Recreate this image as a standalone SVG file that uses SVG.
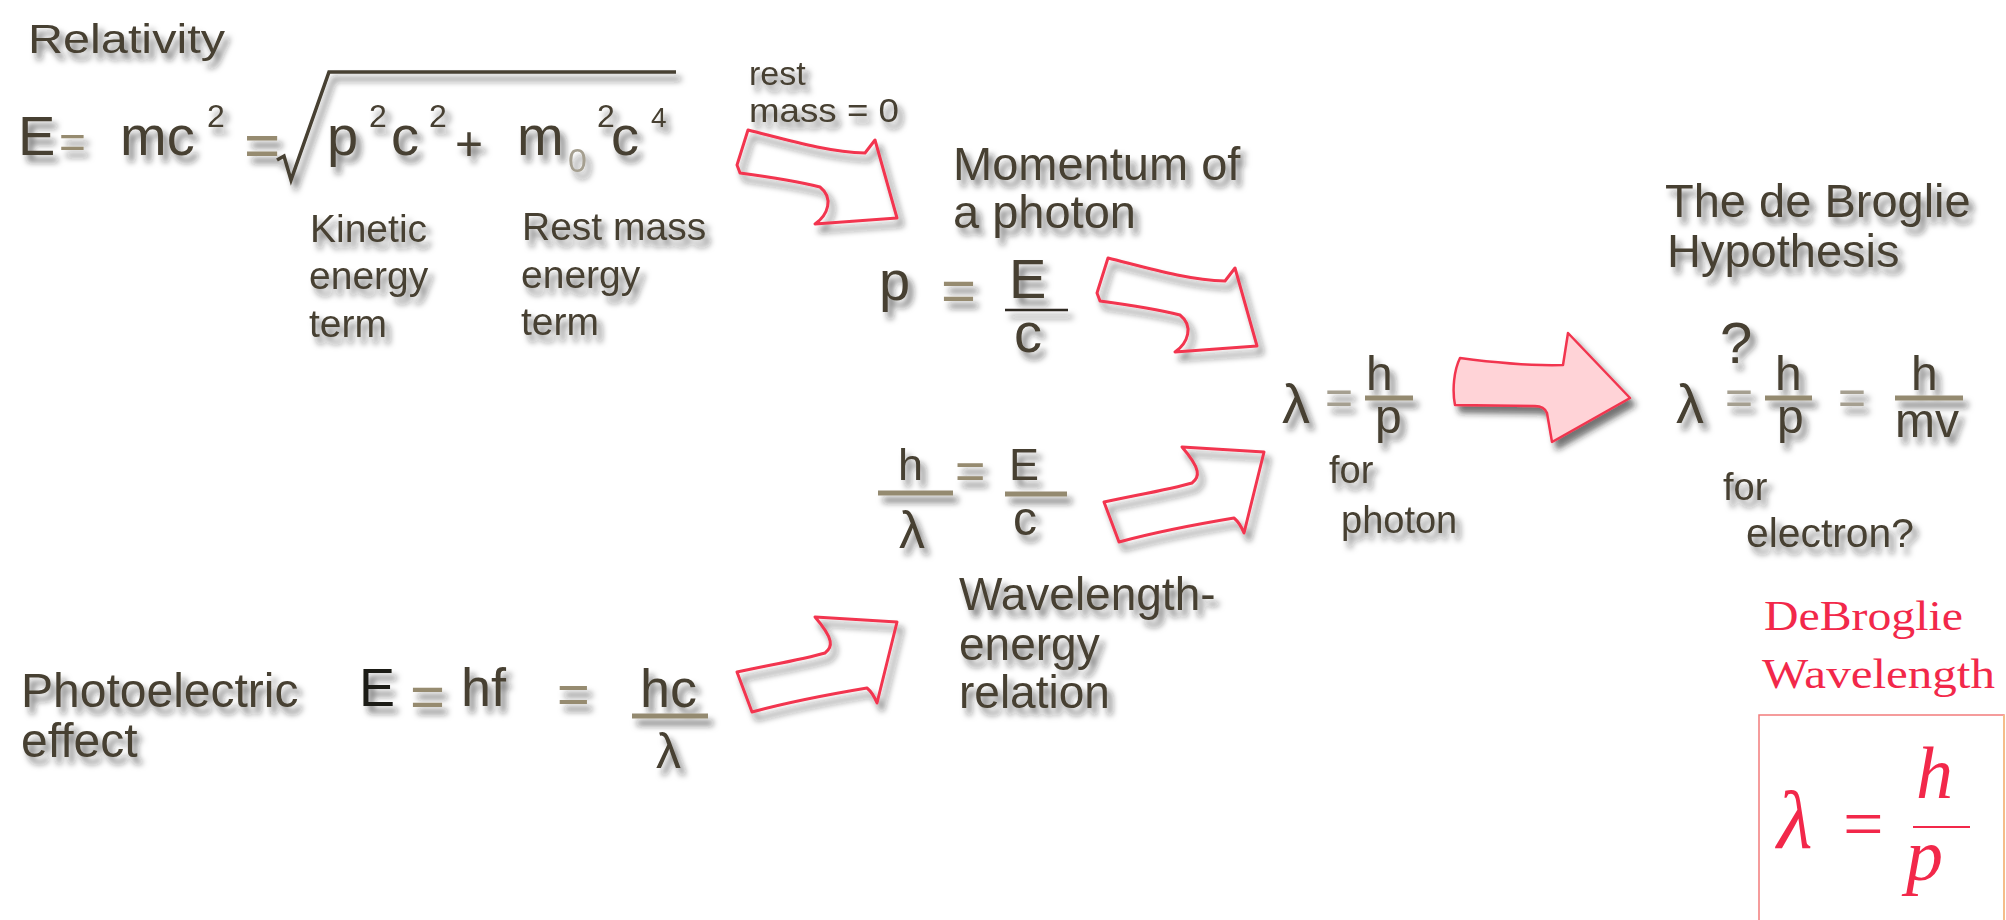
<svg xmlns="http://www.w3.org/2000/svg" xmlns:xlink="http://www.w3.org/1999/xlink" width="2006" height="920" viewBox="0 0 2006 920">
<defs>
<filter id="sh" x="-20%" y="-30%" width="150%" height="170%">
<feDropShadow dx="5" dy="7" stdDeviation="3.2" flood-color="#222" flood-opacity="0.62"/>
</filter>
<path id="arrA" d="M 0 0 C 40 10 80 22 117 23 L 127 10 L 149 88 L 67 94 C 80 85 86 68 72 57 C 45 50 15 46 -8 43 L -11 35 Z"/>
<path id="arrB" d="M 0 0 L 82 5 L 62 86 Q 58 76 52 71 C 10 78 -30 86 -63 95 L -78 55 C -45 48 -10 42 10 36 C 18 30 19 22 0 0 Z"/>
<style>
.t{font-family:"Liberation Sans",Arial,sans-serif;fill:#463f31}
.lt{font-family:"Liberation Sans",Arial,sans-serif;fill:#a59f90}
.bg{font-family:"Liberation Sans",Arial,sans-serif;fill:#968b70}
.fr{stroke:#948a70;stroke-width:5;fill:none}
.frd{stroke:#2e2a22;stroke-width:2.5;fill:none}
.arr{fill:none;stroke:#f2364f;stroke-width:3;stroke-linejoin:round}
.red{font-family:"Liberation Serif","Times New Roman",serif;fill:#f2284a}
</style>
</defs>
<rect width="2006" height="920" fill="#ffffff"/>

<g id="relativity" filter="url(#sh)">
<text class="t" x="28" y="53" font-size="40" textLength="197" lengthAdjust="spacingAndGlyphs">Relativity</text>
</g>

<g id="eq-relativity" filter="url(#sh)">
<text class="t" x="18" y="155" font-size="56">E</text>
<text class="bg" x="59" y="158" font-size="46">=</text>
<text class="t" x="120" y="155" font-size="56">mc</text>
<text class="t" x="207" y="127" font-size="32">2</text>
<text class="bg" x="244" y="166" font-size="62">=</text>
<path d="M 277 160 L 284 156 L 291 180 L 329 72 L 676 72" fill="none" stroke="#463f31" stroke-width="3.5"/>
<text class="t" x="327" y="155" font-size="56">p</text>
<text class="t" x="369" y="127" font-size="32">2</text>
<text class="t" x="391" y="155" font-size="56">c</text>
<text class="t" x="429" y="127" font-size="32">2</text>
<text class="t" x="455" y="160" font-size="48">+</text>
<text class="t" x="517" y="155" font-size="56">m</text>
<text class="lt" x="568" y="172" font-size="34">0</text>
<text class="t" x="597" y="127" font-size="32">2</text>
<text class="t" x="611" y="155" font-size="56">c</text>
<text class="t" x="651" y="127" font-size="28">4</text>
</g>

<g id="kinetic-term" filter="url(#sh)">
<text class="t" x="310" y="242" font-size="39">Kinetic</text>
<text class="t" x="309" y="289" font-size="39">energy</text>
<text class="t" x="309" y="337" font-size="39">term</text>
</g>

<g id="restmass-term" filter="url(#sh)">
<text class="t" x="522" y="240" font-size="39">Rest mass</text>
<text class="t" x="521" y="288" font-size="39">energy</text>
<text class="t" x="521" y="335" font-size="39">term</text>
</g>

<g id="rest-mass-label" filter="url(#sh)">
<text class="t" x="749" y="85" font-size="34">rest</text>
<text class="t" x="749" y="122" font-size="34" textLength="150" lengthAdjust="spacingAndGlyphs">mass = 0</text>
</g>

<g id="momentum-photon" filter="url(#sh)">
<text class="t" x="953" y="180" font-size="47">Momentum of</text>
<text class="t" x="953" y="228" font-size="47">a photon</text>
</g>

<g id="eq-p" filter="url(#sh)">
<text class="t" x="879" y="300" font-size="56">p</text>
<text class="bg" x="941" y="311" font-size="60">=</text>
<text class="t" x="1009" y="298" font-size="56">E</text>
<line class="frd" x1="1005" y1="310" x2="1068" y2="310"/>
<text class="t" x="1014" y="352" font-size="56">c</text>
</g>

<g id="eq-wavelength-energy" filter="url(#sh)">
<text class="t" x="898" y="480" font-size="45">h</text>
<line class="fr" x1="878" y1="493" x2="953" y2="493"/>
<text class="t" x="899" y="548" font-size="52">λ</text>
<text class="bg" x="955" y="489" font-size="52">=</text>
<text class="t" x="1009" y="480" font-size="45">E</text>
<line class="fr" x1="1005" y1="494" x2="1067" y2="494"/>
<text class="t" x="1013" y="535" font-size="48">c</text>
</g>

<g id="wavelength-energy-label" filter="url(#sh)">
<text class="t" x="959" y="610" font-size="46">Wavelength-</text>
<text class="t" x="959" y="660" font-size="46">energy</text>
<text class="t" x="959" y="708" font-size="46">relation</text>
</g>

<g id="photoelectric" filter="url(#sh)">
<text class="t" x="21" y="707" font-size="48">Photoelectric</text>
<text class="t" x="21" y="757" font-size="48">effect</text>
<text x="359" y="706" font-size="54" font-family="Liberation Sans, Arial, sans-serif" fill="#1e1c18">E</text>
<text class="bg" x="410" y="717" font-size="60">=</text>
<text class="t" x="461" y="706" font-size="54">hf</text>
<text class="bg" x="557" y="713" font-size="56">=</text>
<text class="t" x="640" y="707" font-size="54">hc</text>
<line class="fr" x1="632" y1="716" x2="708" y2="716" stroke-width="6"/>
<text class="t" x="656" y="768" font-size="50">λ</text>
</g>

<g id="eq-photon" filter="url(#sh)">
<text class="t" x="1282" y="423" font-size="56">λ</text>
<text class="lt" x="1325" y="414" font-size="48">=</text>
<text class="t" x="1366" y="390" font-size="48">h</text>
<line class="fr" x1="1365" y1="398" x2="1413" y2="398" stroke-width="3"/>
<text class="t" x="1375" y="433" font-size="48">p</text>
<text class="t" x="1329" y="483" font-size="38">for</text>
<text class="t" x="1341" y="533" font-size="38">photon</text>
</g>

<g id="debroglie-hypothesis" filter="url(#sh)">
<text class="t" x="1665" y="217" font-size="47">The de Broglie</text>
<text class="t" x="1667" y="267" font-size="47">Hypothesis</text>
</g>

<g id="eq-debroglie" filter="url(#sh)">
<text class="t" x="1676" y="423" font-size="56">λ</text>
<text class="t" x="1720" y="363" font-size="58">?</text>
<text class="lt" x="1725" y="414" font-size="48">=</text>
<text class="t" x="1775" y="390" font-size="48">h</text>
<line class="fr" x1="1765" y1="398" x2="1812" y2="398" stroke-width="3"/>
<text class="t" x="1777" y="433" font-size="48">p</text>
<text class="lt" x="1838" y="414" font-size="48">=</text>
<text class="t" x="1911" y="390" font-size="48">h</text>
<line class="fr" x1="1895" y1="398" x2="1963" y2="398" stroke-width="3"/>
<text class="t" x="1895" y="437" font-size="48">mv</text>
<text class="t" x="1723" y="500" font-size="38">for</text>
<text class="t" x="1746" y="547" font-size="40" textLength="168" lengthAdjust="spacingAndGlyphs">electron?</text>
</g>

<g id="debroglie-wavelength">
<text class="red" x="1764" y="630" font-size="43" textLength="199" lengthAdjust="spacingAndGlyphs">DeBroglie</text>
<text class="red" x="1762" y="688" font-size="43" textLength="233" lengthAdjust="spacingAndGlyphs">Wavelength</text>
<rect x="1759" y="715" width="245" height="230" fill="none" stroke="#f27c7c" stroke-width="1.5"/>
<line x1="2004" y1="715" x2="2004" y2="920" stroke="#f5bd8a" stroke-width="2"/>
<text class="red" x="1777" y="848" font-size="82" font-style="italic">λ</text>
<text class="red" x="1843" y="848" font-size="72">=</text>
<line x1="1913" y1="827" x2="1970" y2="827" stroke="#f2284a" stroke-width="2"/>
<text class="red" x="1916" y="798" font-size="74" font-style="italic">h</text>
<text class="red" x="1906" y="880" font-size="74" font-style="italic">p</text>
</g>

<g id="connectors" filter="url(#sh)">
<use xlink:href="#arrA" class="arr" transform="translate(748 130)"/>
<use xlink:href="#arrA" class="arr" transform="translate(1108 258)"/>
<use xlink:href="#arrB" class="arr" transform="translate(1182 447)"/>
<use xlink:href="#arrB" class="arr" transform="translate(815 617)"/>
<path d="M 1460 358 C 1490 362 1530 366 1563 365 L 1568 333 L 1630 398 L 1552 442 L 1547 413 C 1545 408 1540 406 1535 406 L 1455 405 C 1452 390 1454 370 1460 358 Z" fill="#ffd3d7" stroke="#f2364f" stroke-width="2.5" stroke-linejoin="round"/>
</g>
</svg>
